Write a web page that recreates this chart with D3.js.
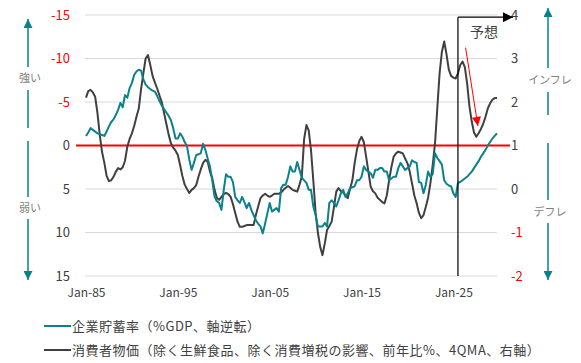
<!DOCTYPE html>
<html>
<head>
<meta charset="utf-8">
<script src="https://cdn.jsdelivr.net/npm/d3@7"></script>
<style>
  body { margin: 0; background: #fff; }
  text { font-family: "Noto Sans CJK JP", "Noto Sans", sans-serif; }
</style>
</head>
<body>
<div id="chart"></div>
<script>
// quarterly data, 1985Q1 .. 2029Q4 (forecast from 2025Q3)
var startDate = new Date(1985, 0, 1)
var endDate = new Date(2030, 0, 1)
var forecastStart = new Date(2025, 6, 1)

// corporate saving rate, % of GDP (left axis, reversed)
var savingRate = [
  -1.1, -1.5, -2.0, -1.8,  -1.6, -1.4, -1.3, -1.2,  -1.1, -1.6, -2.2, -2.7,  -3.0, -3.5, -4.1, -4.9,
  -4.4, -5.8, -5.5, -6.6,  -7.2, -8.1, -8.5, -8.7,  -8.6, -7.6, -7.0, -6.7,  -6.5, -6.3, -6.2, -5.7,
  -5.1, -4.6, -4.2, -3.8,  -3.4, -2.9, -2.0, -0.8,  -0.8, -1.4, -1.0, -0.4,   0.1, 1.6, 2.8, 2.0,
   1.1, 1.0, 0.9, -0.2,    0.5, 1.5, 2.4, 4.0,     5.9, 6.4, 6.6, 7.4,     5.1, 3.3, 3.6, 3.6,
   4.2, 5.9, 6.3, 6.6,     5.9, 6.5, 7.2, 6.6,     7.4, 8.0, 8.6, 9.0,     9.3, 10.1, 9.0, 7.8,
   6.6, 7.6, 7.4, 7.2,     7.6, 4.9, 4.5, 4.5,     3.6, 2.4, 3.0, 3.0,     1.9, 2.8, 3.7, 4.0,
   4.3, 5.1, 5.1, 7.0,     8.0, 9.3, 9.3, 9.3,     8.9, 9.3, 6.6, 6.3,     6.6, 7.0, 6.3, 5.5,
   5.1, 5.9, 5.5, 4.9,     4.8, 4.7, 4.0, 4.0,     3.6, 2.4, 2.8, 3.0,     3.2, 3.7, 2.8, 2.8,
   2.6, 2.6, 3.0, 3.0,     4.0, 3.8, 3.6, 3.6,     2.6, 2.0, 2.4, 2.8,     2.6, 2.4, 1.7, 1.9,
   2.0, 4.2, 4.3, 5.5,     4.5, 3.0, 3.6, 3.3,     0.9, 1.4, 1.8, 2.2,     4.0, 4.4, 4.6, 4.7,
   5.5, 5.9, 4.3, 4.2,     4.0, 3.8, 3.6, 3.3,     3.0, 2.6, 2.2, 1.8,     1.3, 0.9, 0.5, 0.0,
  -0.4, -0.8, -1.1, -1.4
]

// core CPI ex fresh food & tax, y/y %, 4QMA (right axis)
var cpi = [
   2.10, 2.25, 2.28, 2.22,   2.12, 1.75, 1.25, 0.85,   0.60, 0.30, 0.18, 0.20,   0.28, 0.40, 0.48, 0.45,
   0.50, 0.65, 0.97, 1.15,   1.28, 1.45, 1.66, 1.85,   2.30, 2.66, 3.00, 3.08,   2.85, 2.60, 2.45, 2.31,
   2.15, 2.00, 1.75, 1.50,   1.25, 1.05, 0.95, 0.88,   0.78, 0.55, 0.30, 0.10,   0.00, -0.09, -0.02, 0.02,
   0.09, 0.28, 0.45, 0.60,   0.67, 0.63, 0.40, 0.25,  -0.02, -0.20, -0.25, -0.18, -0.12, -0.09, -0.12, -0.18,
  -0.35, -0.55, -0.75, -0.87, -0.87, -0.85, -0.83, -0.83, -0.83, -0.83, -0.60, -0.40, -0.21, -0.15, -0.11, -0.15,
  -0.18, -0.15, -0.11, -0.11, -0.11, -0.08, -0.02, 0.03,  0.07, 0.03, -0.02, -0.04, -0.06, 0.10, 0.28, 1.15,
   1.47, 1.35, 0.90, 0.20,  -0.55, -1.00, -1.33, -1.52, -1.25, -0.94, -0.85, -0.75, -0.41, -0.06, 0.02, -0.05,
  -0.08, -0.15, -0.21, 0.00,  0.20, 0.59, 0.90, 1.10,   1.20, 1.08, 0.75, 0.40,   0.05, -0.05, -0.10, -0.20,
  -0.25, -0.30, -0.33, -0.15, 0.20, 0.50, 0.74, 0.82,   0.86, 0.84, 0.82, 0.70,   0.59, 0.40, 0.13, -0.15,
  -0.33, -0.55, -0.67, -0.60, -0.41, -0.20, 0.13, 0.55,  1.05, 1.85, 2.65, 3.15,   3.39, 3.10, 2.75, 2.60,
   2.56, 2.54, 2.66, 2.85,   2.93, 2.80, 2.43, 1.90,   1.55, 1.30, 1.20, 1.28,   1.38, 1.50, 1.66, 1.85,
   1.97, 2.05, 2.09, 2.09
]

var leftTicks = [-15, -10, -5, 0, 5, 10, 15]
var rightTicks = [-2, -1, 0, 1, 2, 3, 4]
var xTickYears = [1985, 1995, 2005, 2015, 2025]
var legendLabels = [
  "企業貯蓄率（%GDP、軸逆転）",
  "消費者物価（除く生鮮食品、除く消費増税の影響、前年比%、4QMA、右軸）"
]

var width = 581
var height = 363
var teal = "#0a828c"
var dark = "#404040"
var red = "#ff0000"
var grey = "#7f7f7f"

var quarters = d3.timeMonth.every(3).range(startDate, endDate)

var x = d3.scaleTime()
          .domain([startDate, quarters[quarters.length - 1]])
          .range([86, 497])
var yL = d3.scaleLinear().domain([-15, 15]).range([15, 276])
var yR = d3.scaleLinear().domain([4, -2]).range([15, 276])

var svg = d3.select('#chart').append('svg')
            .attr('width', width)
            .attr('height', height)

var defs = svg.append('defs')
function marker (id, color, w, h) {
  defs.append('marker')
      .attr('id', id)
      .attr('viewBox', '0 0 10 10')
      .attr('refX', 10).attr('refY', 5)
      .attr('markerUnits', 'userSpaceOnUse')
      .attr('markerWidth', w).attr('markerHeight', h)
      .attr('orient', 'auto')
    .append('path')
      .attr('d', 'M0,0 L10,5 L0,10 Z')
      .attr('fill', color)
}
marker('arTeal', teal, 9, 9)
marker('arBlack', '#000', 11, 10)
marker('arRed', red, 10, 9)

// gridlines
svg.append('g').selectAll('line')
   .data(leftTicks.filter(d => d !== 0))
   .enter().append('line')
   .attr('x1', 85).attr('x2', 497)
   .attr('y1', d => yL(d)).attr('y2', d => yL(d))
   .attr('stroke', '#d9d9d9').attr('stroke-width', 1)

// axes (plain hyphen minus like the source)
var plain = d => String(d)
var leftAxis = svg.append('g')
    .attr('transform', 'translate(74,0)')
    .call(d3.axisLeft(yL).tickValues(leftTicks).tickFormat(plain).tickSize(0).tickPadding(4))
var rightAxis = svg.append('g')
    .attr('transform', 'translate(507,0)')
    .call(d3.axisRight(yR).tickValues(rightTicks).tickFormat(plain).tickSize(0).tickPadding(4))
var bottomAxis = svg.append('g')
    .attr('transform', 'translate(0,276)')
    .call(d3.axisBottom(x)
            .tickValues(xTickYears.map(y => new Date(y, 0, 1)))
            .tickFormat(d3.timeFormat('%b-%y'))
            .tickSize(0).tickPadding(12))

;[leftAxis, rightAxis, bottomAxis].forEach(function (g) {
  g.select('.domain').remove()
  g.selectAll('text').attr('font-family', '"Noto Sans CJK JP", sans-serif')
})
leftAxis.selectAll('text').attr('fill', d => d < 0 ? red : dark).attr('font-size', 13)
rightAxis.selectAll('text').attr('fill', d => d < 0 ? red : dark).attr('font-size', 13)
bottomAxis.selectAll('text').attr('fill', dark).attr('font-size', 12)

// red zero line
svg.append('line')
   .attr('x1', 76).attr('x2', 510)
   .attr('y1', yL(0)).attr('y2', yL(0))
   .attr('stroke', red).attr('stroke-width', 2)

// series
var tealLine = d3.line().x((d, i) => x(quarters[i])).y(d => yL(d))
var cpiLine = d3.line().x((d, i) => x(quarters[i])).y(d => yR(d))

svg.append('path').datum(cpi)
   .attr('d', cpiLine).attr('fill', 'none')
   .attr('stroke', dark).attr('stroke-width', 2).attr('stroke-linejoin', 'round')
svg.append('path').datum(savingRate)
   .attr('d', tealLine).attr('fill', 'none')
   .attr('stroke', teal).attr('stroke-width', 2).attr('stroke-linejoin', 'round')

// forecast marker
var fx = x(forecastStart)
svg.append('line')
   .attr('x1', fx).attr('x2', fx).attr('y1', yR(-2)).attr('y2', yR(3.95))
   .attr('stroke', '#000').attr('stroke-width', 1.2)
svg.append('line')
   .attr('x1', fx).attr('x2', 513).attr('y1', yR(3.95)).attr('y2', yR(3.95))
   .attr('stroke', '#000').attr('stroke-width', 1.2)
   .attr('marker-end', 'url(#arBlack)')
svg.append('text')
   .attr('x', fx + 12).attr('y', 37)
   .attr('font-size', 14).attr('fill', dark)
   .text('予想')
svg.append('line')
   .attr('x1', x(new Date(2026, 4, 1))).attr('y1', yR(3.25))
   .attr('x2', x(new Date(2027, 8, 1))).attr('y2', yR(1.45))
   .attr('stroke', red).attr('stroke-width', 1)
   .attr('marker-end', 'url(#arRed)')

// side arrows
function sideArrow (cx, segs, label, ly) {
  segs.forEach(function (s) {
    var l = svg.append('line')
       .attr('x1', cx).attr('x2', cx).attr('y1', s[0]).attr('y2', s[1])
       .attr('stroke', teal).attr('stroke-width', 1.5)
    if (s[2]) l.attr('marker-end', 'url(#arTeal)')
  })
  svg.append('text')
     .attr('x', cx + 2).attr('y', ly).attr('dy', '0.35em')
     .attr('text-anchor', 'middle')
     .attr('font-size', 11).attr('fill', grey)
     .text(label)
}
sideArrow(28, [[128, 90], [67, 19, true]], '強い', 78)
sideArrow(28, [[141, 197], [219, 280, true]], '弱い', 208)
sideArrow(548, [[115, 92], [68, 8, true]], 'インフレ', 80)
sideArrow(548, [[143, 200], [223, 280, true]], 'デフレ', 212)

// legend
var legend = svg.append('g')
legendLabels.forEach(function (t, i) {
  var ly = 326 + i * 24
  legend.append('line')
        .attr('x1', 44).attr('x2', 71).attr('y1', ly).attr('y2', ly)
        .attr('stroke', i === 0 ? teal : dark).attr('stroke-width', 2)
  legend.append('text')
        .attr('x', 72).attr('y', ly).attr('dy', '0.35em')
        .attr('font-size', 13).attr('letter-spacing', '0.5px').attr('fill', dark)
        .text(t)
})
</script>
</body>
</html>
